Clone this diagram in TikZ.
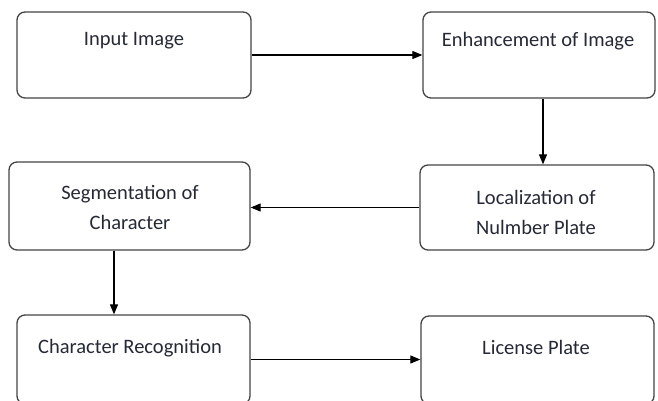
\documentclass[tikz,border=0pt]{standalone}
\usepackage{fontspec}
\setmainfont{Carlito}
\usetikzlibrary{arrows.meta}
\definecolor{boxline}{HTML}{454545}
\definecolor{txt}{HTML}{262A36}
\tikzset{
  box/.style={draw=boxline, line width=1.3pt, rounded corners=8pt, inner sep=0pt},
  lbl/.style={text=txt, font=\fontsize{20.5}{30}\selectfont, align=center, inner sep=0pt},
  arr/.style={draw=black, line width=1.1pt, -{Triangle[length=10pt,width=8pt]}}
}
\begin{document}
\begin{tikzpicture}[x=1pt,y=-1pt]
\useasboundingbox (0,0) rectangle (658,401);
\clip (0,0) rectangle (658,401);
\fill[white] (0,0) rectangle (658,401);
% boxes
\node[box, minimum width=234pt, minimum height=86pt] (b1) at (134,55) {};
\node[box, minimum width=232pt, minimum height=86pt] (b2) at (539,55) {};
\node[box, minimum width=241pt, minimum height=88pt] (b3) at (129.5,206) {};
\node[box, minimum width=234pt, minimum height=85pt] (b4) at (537,207.5) {};
\node[box, minimum width=233pt, minimum height=89pt] (b5) at (133.5,359.5) {};
\node[box, minimum width=233pt, minimum height=88pt] (b6) at (537.5,360) {};
% labels
\node[lbl] (t1) at (134,41) {Input Image};
\node[lbl] (t2) at (538,41) {Enhancement of Image};
\node[lbl] (t3) at (130,207) {Segmentation of\\Character};
\node[lbl] (t4) at (536,212) {Localization of\\Nulmber Plate};
\node[lbl] (t5) at (130,348) {Character Recognition};
\node[lbl] (t6) at (536,347) {License Plate};
% connectors
\draw[arr] (b1.east) -- (b2.west);
\draw[arr] ([xshift=4pt]b2.south) -- ([xshift=4pt]b2.south |- b4.north);
\draw[arr] (b4.west) -- (b4.west -| b3.east);
\draw[arr] ([xshift=-15.5pt]b3.south) -- ([xshift=-15.5pt]b3.south |- b5.north);
\draw[arr] (b5.east) -- (b5.east -| b6.west);
\end{tikzpicture}
\end{document}
